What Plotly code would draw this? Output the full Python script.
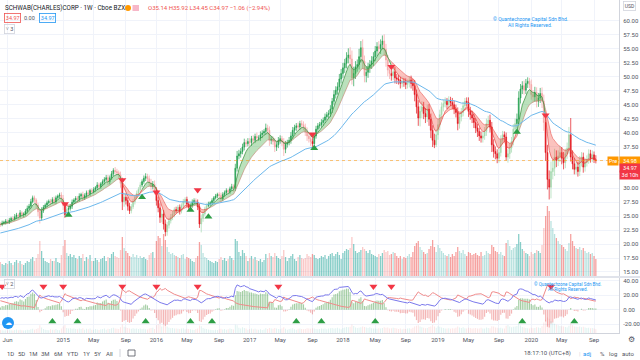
import numpy as np
import pandas as pd
import plotly.graph_objects as go

# ---------------- data ----------------
first_warmup_week = "2013-05-06"
# closes before the visible window (only used to warm up the averages / DMI)
warmup_close = [18.2, 18.6, 18.9, 19.0, 19.3, 19.0, 18.8, 19.4, 19.6, 20.0, 20.1, 19.9, 20.2,
                20.0, 19.7, 19.3, 19.2, 19.5, 19.8, 20.2, 20.0, 19.8, 20.1, 20.6, 20.9, 21.2,
                21.5, 21.9, 22.3, 22.6, 22.4, 22.1, 22.8, 23.2, 23.4, 23.6, 24.0, 23.5, 22.8,
                22.6, 23.3, 23.8, 24.1, 24.4, 24.6, 24.3, 24.0, 23.8, 23.0, 23.2, 23.5, 23.6]
warmup_upper_wick = [3, 4, 3, 3, 4, 3, 5, 3, 3, 4, 3, 3, 4, 3, 3, 4, 3, 3, 3, 4, 3, 3, 3, 4, 3, 3,
                     3, 4, 3, 4, 3, 4, 3, 3, 3, 4, 3, 4, 5, 3, 4, 3, 3, 4, 3, 3, 4, 3, 5, 3, 3, 4]
warmup_lower_wick = [3, 3, 4, 3, 3, 5, 4, 3, 4, 3, 3, 4, 3, 4, 4, 3, 3, 4, 3, 3, 4, 3, 3, 3, 4, 3,
                     3, 3, 4, 3, 4, 4, 3, 3, 3, 3, 3, 5, 5, 4, 3, 3, 3, 3, 4, 3, 4, 3, 6, 3, 3, 3]

# visible weekly closes 2014-05-05 ... 2020-09-14
close_visible = [
    23.5, 23.8, 23.9, 24.1, 24.0, 24.3, 24.6, 24.5, 24.9, 25.2, 25.0, 25.6, 25.3,
    25.4, 25.9, 26.4, 26.8, 27.6, 28.3, 27.9, 27.0, 25.8, 24.7, 26.0, 26.6, 27.0,
    27.4, 27.7, 27.5, 28.0, 27.6, 28.3, 28.6, 28.8, 28.2,
    26.9, 25.3, 26.2, 26.4, 26.8, 27.5, 27.9, 28.2, 28.0, 28.6, 28.9, 28.3, 28.7,
    29.2, 29.0, 29.6, 29.4, 29.8, 30.1, 30.6, 30.3, 30.8, 31.2, 31.6, 31.9, 31.2,
    31.9, 32.6, 33.2, 33.0, 32.8, 32.4, 30.9, 27.6, 28.4, 27.8, 26.8, 26.0, 26.7,
    27.6, 28.4, 29.1, 29.8, 30.6, 31.2, 31.8, 32.1, 31.7, 31.0, 30.3, 30.7, 29.6,
    27.8, 26.5, 24.8, 25.4, 23.6, 22.2, 23.4, 24.2, 24.8, 25.4, 26.2, 26.0, 26.6,
    25.9, 26.9, 27.6, 28.0, 27.2, 26.6, 26.9, 27.5, 27.8, 27.5, 26.7, 23.6, 24.6,
    25.4, 26.3, 26.9, 27.2, 27.4, 27.8, 28.3, 28.6, 28.9, 28.7, 28.1, 28.9, 29.2,
    29.6, 29.4, 29.9, 30.3, 30.0, 33.6, 35.8, 36.2, 36.6, 37.4, 38.2, 38.0, 38.4,
    38.2, 38.9, 38.6, 39.3, 39.0, 39.0, 39.6, 39.9, 40.2, 40.8, 40.4, 38.6, 38.8,
    38.4, 37.4, 37.8, 38.6, 38.9, 38.3, 37.0, 37.9, 38.2, 38.6, 39.4, 40.4, 40.9,
    41.2, 41.0, 41.6, 41.4, 41.0, 40.2, 39.4, 38.9, 38.4, 38.0, 39.4, 40.6, 41.2,
    41.4, 41.8, 42.2, 42.8, 43.2, 43.4, 44.2, 45.6, 46.8, 47.6, 48.2, 49.6, 50.6,
    51.6, 52.4, 53.4, 53.9, 53.2, 49.8, 50.6, 51.8, 52.2, 53.6, 55.2, 52.8, 50.2,
    50.8, 51.6, 52.2, 52.8, 53.6, 54.6, 55.4, 55.0, 55.8, 56.4, 54.9, 53.0, 51.2,
    50.6, 50.2, 50.9, 49.8, 49.6, 49.4, 48.8, 49.2, 49.0, 48.6, 48.9, 49.4, 48.8,
    48.4, 46.8, 44.6, 42.6, 43.8, 44.6, 43.4, 42.8, 44.2, 42.4, 40.4, 38.6, 37.8, 39.6,
    41.4, 43.2, 44.6, 45.2, 45.6, 45.0, 45.8, 45.4, 45.0, 44.2, 43.6, 41.6,
    42.8, 43.6, 44.8, 45.6, 45.4, 43.8, 43.2, 42.6, 41.8, 40.8, 40.2, 39.4, 39.0,
    39.4, 40.2, 41.6, 42.2, 41.0, 37.8, 36.6, 36.2, 35.4, 36.4, 38.6, 39.6, 39.2, 35.6,
    36.2, 37.2, 38.4, 40.6, 41.6, 42.4, 46.2, 47.8, 48.4, 47.6, 48.8, 49.2, 48.6,
    46.8, 46.4, 47.2, 45.6, 46.2, 47.0, 45.6, 41.8, 36.4, 31.6, 30.2, 33.0, 33.6,
    35.6, 35.0, 35.8, 36.4, 35.4, 34.6, 36.2, 37.2, 39.6, 35.6, 34.4, 33.4, 33.8,
    33.0, 34.8, 35.6, 33.8, 34.6, 35.2, 36.2, 35.4, 36.0, 35.14, 34.97]
# wick lengths in tenths of a dollar beyond the candle body
upper_wick = [
    3, 4, 3, 4, 3, 4, 3, 4, 5, 4, 3, 5, 3, 3, 4, 5, 4, 5, 4, 4, 3, 4, 5, 6, 4, 3, 4, 3, 4, 4, 5, 4, 3, 4, 5,
    6, 5, 6, 4, 4, 5, 3, 4, 4, 5, 3, 5, 4, 4, 5, 3, 4, 4, 3, 5, 4, 3, 4, 4, 5, 5, 4, 5, 4, 6,
    5, 4, 6, 10, 8, 7, 6, 6, 5, 5, 4, 5, 4, 5, 4, 5, 6, 5, 6, 7, 6, 7,
    6, 7, 8, 9, 7, 8, 6, 5, 6, 5, 4, 5, 4, 5, 4, 5, 4, 5, 4, 4, 5, 4, 4, 5, 6, 7, 5, 4, 4, 4,
    3, 4, 3, 4, 3, 4, 5, 4, 4, 4, 3, 4, 5, 4, 8, 9, 7, 6, 6, 7, 5, 6,
    6, 5, 6, 5, 7, 5, 6, 5, 4, 8, 6, 7, 5, 5, 6, 5, 6, 6, 5, 7, 6, 5, 6, 7, 6, 5,
    5, 6, 5, 6, 6, 6, 7, 6, 5, 6, 5, 6, 5, 5, 6, 5, 6, 5, 6, 7, 6, 8, 7, 8, 9, 8,
    9, 8, 10, 12, 14, 15, 12, 10, 9, 14, 12, 15, 10, 10, 9, 8, 9, 8, 9, 8, 10, 9, 10, 12, 10, 9,
    8, 7, 8, 9, 7, 7, 6, 7, 6, 7, 6, 7, 8, 8, 10, 9, 12, 10, 10, 9, 10, 8, 9, 10, 9, 12, 10,
    10, 9, 8, 7, 7, 6, 7, 6, 8, 7, 8, 9, 7, 8, 7, 6, 7, 9, 8, 7, 8, 7, 8, 7, 8,
    7, 8, 9, 8, 10, 9, 10, 9, 8, 8, 9, 7, 6, 8, 8, 9, 8, 9, 9, 10, 12, 9, 8, 9, 8, 7, 6,
    9, 8, 10, 9, 9, 10, 11, 12, 15, 14, 16, 18, 14, 15, 12, 10, 11, 10, 11, 9, 10,
    14, 30, 12, 10, 9, 9, 10, 9, 8, 8, 7, 8, 7, 8, 6, 8]
lower_wick = [
    4, 3, 3, 4, 3, 4, 3, 4, 3, 4, 5, 3, 4, 5, 3, 4, 3, 4, 3, 5, 6, 8, 10, 5, 4, 3, 4, 3, 5, 3, 5, 4, 3, 4, 6,
    8, 6, 5, 5, 4, 5, 3, 4, 5, 4, 4, 6, 4, 4, 5, 4, 4, 3, 4, 4, 5, 4, 3, 5, 4, 6,
    5, 4, 4, 5, 5, 6, 8, 15, 9, 7, 8, 6, 5, 4, 5, 4, 4, 5, 4, 4, 5, 6, 6, 7, 5, 7,
    9, 8, 10, 9, 10, 8, 7, 6, 5, 5, 6, 4, 5, 6, 4, 5, 4, 6, 5, 5, 4, 4, 5, 6, 7, 15, 6, 4, 4, 3,
    4, 3, 4, 3, 4, 5, 6, 4, 4, 4, 5, 4, 4, 6, 5, 6, 6, 7, 5, 6, 6, 5,
    7, 6, 6, 5, 6, 5, 5, 6, 4, 6, 7, 10, 7, 6, 9, 7, 6, 6, 7, 12, 7, 6, 5, 6, 5, 7,
    6, 6, 5, 7, 6, 8, 9, 7, 8, 10, 6, 5, 6, 5, 5, 6, 5, 6, 6, 6, 7, 6, 7, 8, 7, 8,
    8, 9, 9, 10, 12, 12, 15, 10, 9, 9, 10, 14, 12, 12, 10, 9, 8, 9, 8, 9, 10, 9, 9, 12, 12, 11,
    10, 9, 8, 10, 9, 8, 9, 7, 8, 8, 7, 8, 9, 9, 12, 12, 14, 15, 12, 10, 11, 9, 12, 14, 12, 6, 4,
    9, 10, 8, 8, 7, 8, 7, 7, 8, 9, 9, 12, 9, 8, 7, 8, 7, 10, 9, 9, 10, 9, 10, 9, 8,
    8, 7, 8, 7, 10, 13, 11, 10, 9, 8, 7, 7, 8, 6, 10, 9, 8, 7, 8, 9, 9, 10, 9, 8, 7, 8, 7,
    9, 10, 9, 11, 10, 9, 12, 15, 15, 18, 22, 20, 14, 14, 12, 10, 11, 11, 12, 10, 9,
    10, 8, 10, 9, 9, 9, 8, 9, 10, 8, 7, 8, 8, 7, 6, 5]
volume = [
    28, 24, 22, 26, 24, 30, 26, 22, 28, 32, 26, 30, 24, 22, 26, 30, 28, 34, 38, 30, 36, 44,
    70, 50, 36, 30, 28, 26, 34, 30, 30, 36, 28, 26, 42,
    60, 72, 46, 40, 44, 38, 42, 36, 34, 40, 36, 44, 30, 38, 34, 42, 30, 30, 36, 32, 28,
    34, 36, 40, 30, 38, 36, 44, 48, 40, 38, 36, 52, 78, 56, 50, 46, 40, 38, 44, 38, 42, 36,
    40, 36, 38, 34, 32, 42, 46, 48, 36,
    70, 80, 76, 60, 84, 72, 58, 48, 44, 46, 42, 40, 38, 36, 42, 44, 34, 38, 36, 34, 30, 28,
    36, 40, 68, 62, 46, 38, 36, 32, 30, 28, 26, 30, 28, 34, 38, 32, 36, 30, 34, 40, 36, 32,
    74, 70, 48, 40, 52, 46, 40, 30,
    36, 40, 34, 38, 32, 30, 34, 28, 32, 44, 36, 46, 40, 38, 46, 40, 36, 34, 40, 52, 38, 30,
    36, 40, 44, 34, 30, 38, 42, 36, 34, 36, 44, 40, 38, 44, 42, 36, 34, 36, 40, 38, 42, 34,
    40, 44, 46, 40, 44, 48, 42, 34,
    46, 50, 54, 52, 56, 78, 64, 50, 46, 48, 52, 58, 54, 50, 46, 52, 44, 42, 40, 38, 44, 40,
    46, 52, 48, 50, 42, 44, 48, 46, 40, 36, 40, 34, 38, 36, 40, 44, 38, 48, 60, 66, 70, 58,
    52, 48, 44, 46, 54, 60, 72, 58, 48,
    62, 56, 50, 46, 42, 40, 44, 38, 44, 40, 48, 58, 50, 46, 52, 44, 40, 48, 46, 42, 44,
    46, 42, 40, 48, 40, 42, 50, 46, 44, 62, 58, 50, 48, 44, 48, 42, 40, 66, 72, 60, 52, 56,
    58, 64, 84, 68, 54, 50, 46, 44, 40,
    48, 44, 46, 52, 50, 46, 62, 96, 120, 140, 130, 110, 96, 84, 76, 70, 64, 62, 58, 54, 50,
    66, 84, 70, 60, 56, 54, 58, 52, 56, 50, 46, 48, 44, 46, 40, 34]

# signal triangles on the price pane (date, price level)
sell_dates = ["2015-01-12", "2015-08-24", "2016-01-04", "2016-06-13", "2017-09-04", "2018-07-09", "2020-03-02"]
sell_prices = [27.2, 31.5, 29.3, 29.7, 39.7, 51.8, 43.1]
buy_dates = ["2015-01-26", "2015-11-09", "2016-05-16", "2016-07-25", "2017-09-11", "2019-11-11"]
buy_prices = [25.2, 28.4, 26.1, 24.9, 37.2, 40.1]
# signal triangles on the oscillator pane
osc_sell_dates = ["2014-05-12", "2014-10-20", "2015-01-05", "2015-08-24", "2016-01-04", "2016-06-13",
                  "2017-04-24", "2018-04-30", "2018-07-09", "2020-03-23"]
osc_buy_dates = ["2014-11-24", "2015-03-02", "2015-11-23", "2016-05-16", "2016-08-08", "2017-07-03",
                 "2017-10-09", "2018-05-07", "2019-12-02", "2020-06-22"]

tick_dates = ["2014-06-02", "2015-01-05", "2015-05-04", "2015-09-07", "2016-01-04", "2016-05-02",
              "2016-09-05", "2017-01-02", "2017-05-01", "2017-09-04", "2018-01-01", "2018-05-07",
              "2018-09-03", "2019-01-07", "2019-05-06", "2019-09-02", "2020-01-06", "2020-05-04",
              "2020-09-07"]
tick_text = ["Jun", "2015", "May", "Sep", "2016", "May", "Sep", "2017", "May", "Sep", "2018", "May",
             "Sep", "2019", "May", "Sep", "2020", "May", "Sep"]
price_ticks = [15.0, 17.5, 20.0, 22.5, 25.0, 27.5, 30.0, 32.5, 35.0, 37.5, 40.0, 42.5, 45.0,
               47.5, 50.0, 52.5, 55.0, 57.5, 60.0]
hidden_price_ticks = [32.5, 35.0]   # covered by the last-price labels in the reference
osc_ticks = [-20, 0, 20, 40]
pre_price = 34.98
header_ohlc = "O35.14 H35.92 L34.45 C34.97 −1.06 (−2.94%)"

# ---------------- derived series ----------------
close = np.array(warmup_close + close_visible, dtype=float)
uw = np.array(warmup_upper_wick + upper_wick, dtype=float) / 10
lw = np.array(warmup_lower_wick + lower_wick, dtype=float) / 10
assert len(close) == len(uw) == len(lw), (len(close), len(uw), len(lw))
assert len(volume) == len(close_visible), (len(volume), len(close_visible))
n_warm = len(warmup_close)
dates = pd.date_range(first_warmup_week, periods=len(close), freq="W-MON")
opn = np.r_[close[0], close[:-1]]
high = np.maximum(opn, close) + uw
low = np.minimum(opn, close) - lw

s = pd.Series(close)
ema_fast = s.ewm(span=6, adjust=False).mean().values
ema_slow = s.ewm(span=14, adjust=False).mean().values
ema_long = s.ewm(span=50, adjust=False).mean().values

pc = np.r_[close[0], close[:-1]]
tr = np.maximum.reduce([high - low, np.abs(high - pc), np.abs(low - pc)])
up_move = high - np.r_[high[0], high[:-1]]
dn_move = np.r_[low[0], low[:-1]] - low
pdm = np.where((up_move > dn_move) & (up_move > 0), up_move, 0.0)
mdm = np.where((dn_move > up_move) & (dn_move > 0), dn_move, 0.0)
rma = lambda a: pd.Series(a).ewm(alpha=1 / 14, adjust=False).mean().values
pdi = 100 * rma(pdm) / rma(tr)
mdi = 100 * rma(mdm) / rma(tr)
hist = pdi - mdi

V = slice(n_warm, None)
d = dates[V]
o, h, l, c = opn[V], high[V], low[V], close[V]
ef, es, el = ema_fast[V], ema_slow[V], ema_long[V]
pdi_v, mdi_v, hist_v = pdi[V], mdi[V], hist[V]
vol = np.array(volume, dtype=float)

# trend regime from the signals
reg = np.ones(len(d), dtype=int)
events = sorted([(pd.Timestamp(x), -1) for x in sell_dates] + [(pd.Timestamp(x), 1) for x in buy_dates])
for t, sgn in events:
    reg[d >= t] = sgn

is_up = c >= o
classes = {
    "up_strong": (is_up & (reg == 1), "#26a152"),
    "up_pale": (is_up & (reg == -1), "#a3d9ad"),
    "dn_strong": (~is_up & (reg == -1), "#e3161c"),
    "dn_pale": (~is_up & (reg == 1), "#f5a3a3"),
}
vol_colors = np.where(is_up, np.where(reg == 1, "rgba(38,166,154,0.55)", "rgba(38,166,154,0.32)"),
                      np.where(reg == -1, "rgba(239,83,80,0.55)", "rgba(239,83,80,0.32)"))
faint_colors = np.where(is_up, "rgba(38,166,154,0.16)", "rgba(239,83,80,0.16)")

fig = go.Figure()
DAY = 86400000

# volume in the price pane
fig.add_trace(go.Bar(x=d, y=vol, marker_color=list(vol_colors), marker_line_width=0,
                     width=5 * DAY, yaxis="y3", showlegend=False, hoverinfo="skip"))

# ribbon segments
N = len(d)
start = 0
for i in range(1, N + 1):
    if i == N or reg[i] != reg[i - 1]:
        end = min(i, N - 1)
        seg = slice(start, end + 1)
        green = reg[start] == 1
        fill = "rgba(76,175,80,0.38)" if green else "rgba(244,67,54,0.32)"
        lc_fast = "rgba(56,142,60,0.9)" if green else "rgba(229,57,53,0.8)"
        lc_slow = "rgba(190,120,100,0.7)" if green else "rgba(229,57,53,0.6)"
        fig.add_trace(go.Scatter(x=d[seg], y=es[seg], mode="lines", line=dict(color=lc_slow, width=0.8),
                                 showlegend=False, hoverinfo="skip"))
        fig.add_trace(go.Scatter(x=d[seg], y=ef[seg], mode="lines", line=dict(color=lc_fast, width=0.8),
                                 fill="tonexty", fillcolor=fill, showlegend=False, hoverinfo="skip"))
        start = i

fig.add_trace(go.Scatter(x=d, y=el, mode="lines", line=dict(color="#6cb8ec", width=1),
                         showlegend=False, hoverinfo="skip"))

for name, (mask, col) in classes.items():
    if mask.sum() == 0:
        continue
    fig.add_trace(go.Candlestick(
        x=d[mask], open=o[mask], high=h[mask], low=l[mask], close=c[mask],
        increasing=dict(line=dict(color=col, width=0.7), fillcolor=col),
        decreasing=dict(line=dict(color=col, width=0.7), fillcolor=col),
        whiskerwidth=0, showlegend=False, hoverinfo="skip"))

fig.add_trace(go.Scatter(x=pd.to_datetime(sell_dates), y=sell_prices, mode="markers",
                         marker=dict(symbol="triangle-down", size=7, color="#f23645"),
                         showlegend=False, hoverinfo="skip"))
fig.add_trace(go.Scatter(x=pd.to_datetime(buy_dates), y=buy_prices, mode="markers",
                         marker=dict(symbol="triangle-up", size=7, color="#2e9e46"),
                         showlegend=False, hoverinfo="skip"))

# oscillator pane
fig.add_trace(go.Bar(x=d, y=hist_v, width=4.5 * DAY, yaxis="y2", marker_line_width=0,
                     marker_color=np.where(hist_v >= 0, "rgba(76,160,76,0.5)", "rgba(229,80,80,0.42)").tolist(),
                     showlegend=False, hoverinfo="skip"))
fig.add_trace(go.Scatter(x=d, y=mdi_v, yaxis="y2", mode="lines", line=dict(color="#f08a8a", width=1),
                         showlegend=False, hoverinfo="skip"))
fig.add_trace(go.Scatter(x=d, y=pdi_v, yaxis="y2", mode="lines", line=dict(color="#7a78ec", width=1),
                         showlegend=False, hoverinfo="skip"))
OSC_SELL_LEVEL, OSC_BUY_LEVEL = 32, -16
fig.add_trace(go.Scatter(x=pd.to_datetime(osc_sell_dates), y=[OSC_SELL_LEVEL] * len(osc_sell_dates),
                         yaxis="y2", mode="markers",
                         marker=dict(symbol="triangle-down", size=7, color="#f23645"),
                         showlegend=False, hoverinfo="skip"))
fig.add_trace(go.Scatter(x=pd.to_datetime(osc_buy_dates), y=[OSC_BUY_LEVEL] * len(osc_buy_dates),
                         yaxis="y2", mode="markers",
                         marker=dict(symbol="triangle-up", size=7, color="#2e9e46"),
                         showlegend=False, hoverinfo="skip"))
fig.add_trace(go.Bar(x=d, y=vol, width=3.5 * DAY, yaxis="y4", marker_color=list(faint_colors),
                     marker_line_width=0, showlegend=False, hoverinfo="skip"))

# ---------------- layout ----------------
W, H = 640, 360
PX = lambda x: x / W
PY = lambda y: 1 - y / H
FONT = "Roboto"
TXT = "#50535e"
GRID = "#f0f3fa"
XR = 619

def ann(text, x, y, size=6, color=TXT, xanchor="left", **kw):
    return dict(text=text, x=PX(x), y=PY(y), xref="paper", yref="paper", xanchor=xanchor,
                yanchor="middle", showarrow=False, font=dict(size=size, color=color, family=FONT), **kw)

annotations = [
    ann("SCHWAB(CHARLES)CORP · 1W · Cboe BZX", 3, 8, size=6.3, color="#131722"),
    ann(header_ohlc, 146, 8, size=6, color="#ef5350"),
    ann("34.97", 12.5, 18, size=5.5, color="#ef5350", xanchor="center", bordercolor="#ef5350",
        borderwidth=0.8, borderpad=1),
    ann("0.00", 29, 18, size=5.5, color=TXT, xanchor="center"),
    ann("34.97", 47, 18, size=5.5, color="#2196f3", xanchor="center", bordercolor="#2196f3",
        borderwidth=0.8, borderpad=1),
    ann("˅ 3", 9, 29, size=5.5, color=TXT, xanchor="center", bordercolor="#d1d4dc",
        borderwidth=0.8, borderpad=1),
    ann("© Quantechzone Capital Sdn Bhd.", 530, 19, size=5, color="#2196f3", xanchor="center"),
    ann("All Rights Reserved.", 530, 25, size=5, color="#2196f3", xanchor="center"),
    ann("USD", 629, 6, size=5, color=TXT, xanchor="center", bordercolor="#d1d4dc",
        borderwidth=0.8, borderpad=1),
    ann("˅ 2", 9, 284, size=5.5, color=TXT, xanchor="center", bordercolor="#d1d4dc",
        borderwidth=0.8, borderpad=1),
    ann("© Quantechzone Capital Sdn Bhd.", 568, 284, size=4.5, color="#2196f3", xanchor="center"),
    ann("All Rights Reserved.", 568, 289, size=4.5, color="#2196f3", xanchor="center"),
    ann("Pre", 619, 161, size=5.5, color="white", xanchor="right", bgcolor="#ff9800", borderpad=1),
    ann(f"{pre_price:.2f}", 629.5, 161, size=5.5, color="white", xanchor="center", bgcolor="#ff9800",
        borderpad=1, width=18),
    ann(f"{close_visible[-1]:.2f}", 629.5, 168, size=5.5, color="white", xanchor="center",
        bgcolor="#f23645", borderpad=1, width=18),
    ann("3d 10h", 629.5, 175, size=5.5, color="white", xanchor="center", bgcolor="#f23645",
        borderpad=1, width=18),
    ann("☁", 8, 323, size=7, color="white", xanchor="center"),
    ann("⚙", 631, 339, size=8, color=TXT, xanchor="center"),
    ann("18:17:10 (UTC+8)", 573, 353, size=6, color=TXT, xanchor="right"),
    ann("|", 579, 353, size=6, color="#d1d4dc", xanchor="center"),
    ann("adj", 587, 353, size=6, color="#2196f3", xanchor="center"),
    ann("%", 602, 353, size=6, color=TXT, xanchor="center"),
    ann("log", 613, 353, size=6, color=TXT, xanchor="center"),
    ann("auto", 628, 353, size=6, color=TXT, xanchor="center"),
]
for lab, x in zip(["1D", "5D", "1M", "3M", "6M", "YTD", "1Y", "5Y", "All"],
                  [10, 21, 33, 45, 58, 72, 86, 97, 109]):
    annotations.append(ann(lab, x, 353, size=6, color=TXT, xanchor="center"))

shapes = [
    dict(type="rect", xref="paper", yref="paper", x0=0, x1=1, y0=PY(278), y1=PY(276),
         fillcolor="#e0e3eb", line=dict(width=0)),
    dict(type="line", xref="paper", yref="y", x0=0, x1=PX(XR), y0=pre_price, y1=pre_price,
         line=dict(color="rgba(255,152,0,0.55)", width=1, dash="dot")),
    dict(type="circle", xref="paper", yref="paper", x0=PX(125), x1=PX(131), y0=PY(11), y1=PY(5),
         fillcolor="#ff9800", line=dict(width=0)),
    dict(type="rect", xref="paper", yref="paper", x0=PX(132.5), x1=PX(139), y0=PY(11), y1=PY(5),
         fillcolor="#f7b7c8", line=dict(width=0)),
    dict(type="circle", xref="paper", yref="paper", x0=PX(2), x1=PX(14), y0=PY(329), y1=PY(317),
         fillcolor="#2196f3", line=dict(width=0)),
    dict(type="rect", xref="paper", yref="paper", x0=PX(128), x1=PX(135), y0=PY(356), y1=PY(350),
         fillcolor="rgba(0,0,0,0)", line=dict(color=TXT, width=0.8)),
    dict(type="line", xref="paper", yref="paper", x0=PX(120), x1=PX(120), y0=PY(357), y1=PY(349),
         line=dict(color="#d1d4dc", width=1)),
]

tickfont = dict(size=6, color=TXT, family=FONT)
price_text = ["" if v in hidden_price_ticks else f"{v:.2f}" for v in price_ticks]
fig.update_layout(
    width=W, height=H, margin=dict(l=0, r=0, t=0, b=0),
    paper_bgcolor="white", plot_bgcolor="white",
    barmode="overlay", showlegend=False, hovermode=False,
    xaxis=dict(domain=[0, PX(XR)], type="date", anchor="y2",
               range=["2014-05-03 14:00", "2020-12-13 10:00"],
               tickmode="array", tickvals=tick_dates, ticktext=tick_text, tickfont=tickfont,
               showgrid=True, gridcolor=GRID, gridwidth=1, zeroline=False, ticks="", ticklen=0,
               ticklabelstandoff=1,
               showline=True, linecolor="#d1d4dc", linewidth=1,
               rangeslider=dict(visible=False), fixedrange=True),
    yaxis=dict(domain=[PY(276), 1], range=[14.28, 63.76], side="right", anchor="x",
               tickmode="array", tickvals=price_ticks, ticktext=price_text,
               tickfont=tickfont, showgrid=True, gridcolor=GRID, zeroline=False, ticks="", ticklen=0,
               ticklabelstandoff=2,
               showline=True, linecolor="#d1d4dc", linewidth=1, fixedrange=True),
    yaxis2=dict(domain=[PY(333), PY(278)], range=[-32, 43.7], side="right", anchor="x",
                tickmode="array", tickvals=osc_ticks, ticktext=[f"{v:.2f}" for v in osc_ticks],
                tickfont=tickfont, showgrid=True, gridcolor=GRID, zeroline=False, ticks="", ticklen=0,
                ticklabelstandoff=2,
                showline=True, linecolor="#d1d4dc", linewidth=1, fixedrange=True),
    yaxis3=dict(overlaying="y", range=[0, 552], visible=False, fixedrange=True),
    yaxis4=dict(overlaying="y2", range=[0, 500], visible=False, fixedrange=True),
    annotations=annotations, shapes=shapes,
)

fig.write_html("out.html", config={"displayModeBar": False, "staticPlot": True},
               post_script="document.body.style.margin='0';document.body.style.overflow='hidden';")
